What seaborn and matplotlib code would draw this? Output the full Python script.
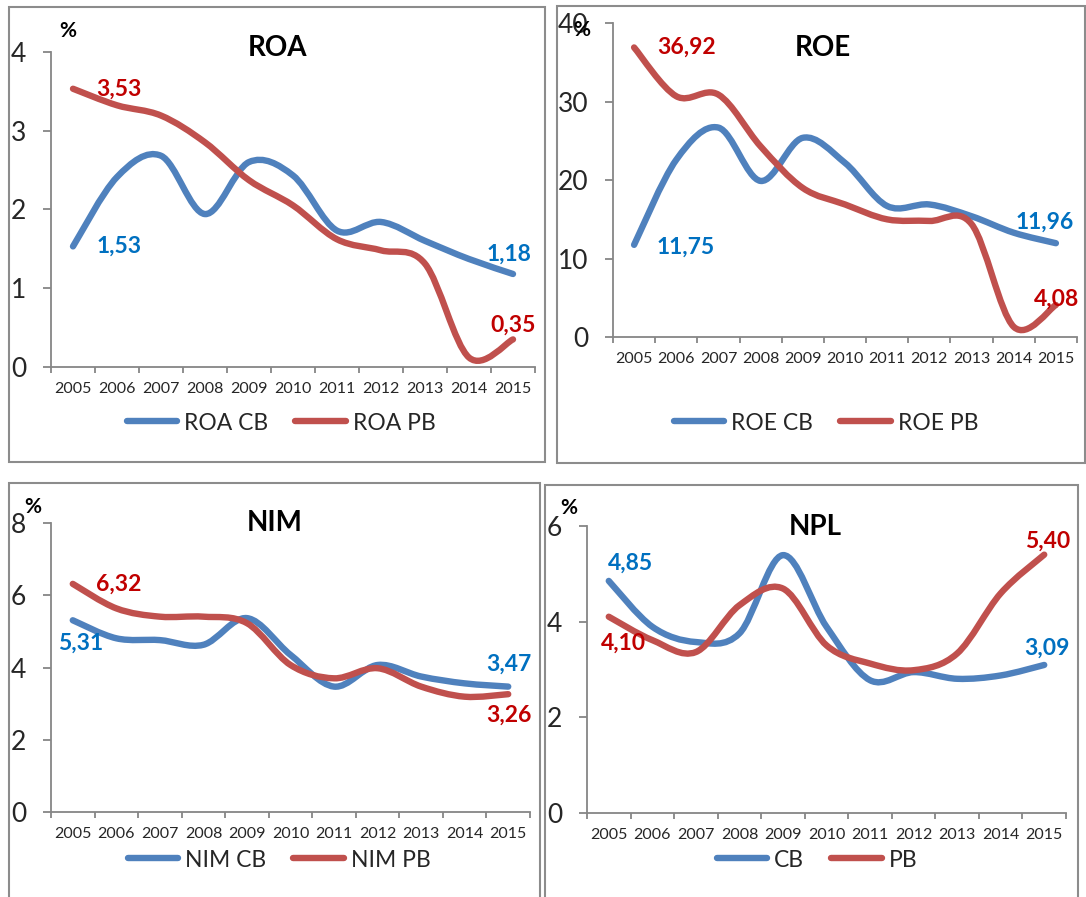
import numpy as np
import pandas as pd
import matplotlib
matplotlib.use("Agg")
import matplotlib.pyplot as plt
import seaborn as sns
from matplotlib.path import Path
from matplotlib.patches import PathPatch, Rectangle
from matplotlib.lines import Line2D

# ---- data ----
years = [str(y) for y in range(2005, 2016)]

roa_cb = [1.53, 2.41, 2.68, 1.94, 2.60, 2.43, 1.73, 1.84, 1.60, 1.37, 1.18]
roa_pb = [3.53, 3.32, 3.19, 2.85, 2.37, 2.05, 1.62, 1.48, 1.31, 0.12, 0.35]

roe_cb = [11.75, 22.6, 26.7, 19.9, 25.4, 22.2, 16.7, 16.9, 15.4, 13.3, 11.96]
roe_pb = [36.92, 30.7, 30.9, 24.3, 19.0, 16.9, 15.0, 14.8, 14.4, 1.3, 4.08]

nim_cb = [5.31, 4.81, 4.76, 4.63, 5.37, 4.35, 3.47, 4.07, 3.75, 3.56, 3.47]
nim_pb = [6.32, 5.64, 5.41, 5.41, 5.23, 4.07, 3.70, 3.98, 3.47, 3.19, 3.26]

npl_cb = [4.85, 3.89, 3.57, 3.75, 5.39, 3.89, 2.77, 2.94, 2.80, 2.87, 3.09]
npl_pb = [4.10, 3.61, 3.36, 4.34, 4.69, 3.50, 3.12, 2.98, 3.33, 4.59, 5.40]

titles = ["ROA", "ROE", "NIM", "NPL"]
legend_labels = [["ROA CB", "ROA PB"], ["ROE CB", "ROE PB"],
                 ["NIM CB", "NIM PB"], ["CB", "PB"]]
series = [(roa_cb, roa_pb), (roe_cb, roe_pb), (nim_cb, nim_pb), (npl_cb, npl_pb)]
yticks = [[0, 1, 2, 3, 4], [0, 10, 20, 30, 40], [0, 2, 4, 6, 8], [0, 2, 4, 6]]

# ---- style ----
sns.set_theme(style="white")
plt.rcParams["font.family"] = ["Lato", "DejaVu Sans"]

W, H = 1086, 897
BLUE, RED = "#4F81BD", "#C0504D"
BLUE_TXT, RED_TXT = "#0070C0", "#C00000"
GRAY = "#868686"

# layout in pixels: axes (left, right, top, bottom), panel box, title, %, legend centre
layout = [
    dict(ax=(51, 535, 51.7, 367), box=(9, 7, 545, 462), title=(277, 48), pct=(68, 31), leg=(281, 423)),
    dict(ax=(613, 1077, 23.3, 337), box=(557, 6, 1085, 463), title=(823, 48), pct=(582, 30), leg=(826, 423)),
    dict(ax=(51, 530, 523.3, 811.7), box=(9, 483, 540, 905), title=(275, 523), pct=(33, 507), leg=(279, 860)),
    dict(ax=(587, 1066, 526, 812.5), box=(545, 485, 1078, 905), title=(815, 527), pct=(569, 508), leg=(817, 860)),
]

# value labels: (series index, point index, dx px, dy px (up +))
value_labels = [
    [(1, 0, 46, 0), (0, 0, 46, 0), (0, 10, -4, 20), (1, 10, 0, 14)],
    [(1, 0, 52, 0), (0, 0, 52, -2), (0, 10, -11, 21), (1, 10, 1, 6)],
    [(1, 0, 46, 0), (0, 0, 8, -23), (0, 10, 1, 22), (1, 10, 1, -21)],
    [(0, 0, 22, 18), (1, 0, 15, -26), (1, 10, 3, 13), (0, 10, 3, 17)],
]


def smooth_path(xs, ys):
    # Bezier curve through every point (spreadsheet-style smoothed line)
    pts = np.column_stack([xs, ys]).astype(float)
    n = len(pts)
    verts, codes = [pts[0]], [Path.MOVETO]
    for i in range(n - 1):
        p0 = pts[i - 1] if i > 0 else pts[i]
        p1, p2 = pts[i], pts[i + 1]
        p3 = pts[i + 2] if i + 2 < n else pts[i + 1]
        verts += [p1 + (p2 - p0) / 6, p2 - (p3 - p1) / 6, p2]
        codes += [Path.CURVE4] * 3
    return Path(verts, codes)


fig = plt.figure(figsize=(W / 100, H / 100), dpi=100)
fig.patch.set_facecolor("white")

for k, lay in enumerate(layout):
    l, r, t, b = lay["ax"]
    ax = fig.add_axes([l / W, 1 - b / H, (r - l) / W, (b - t) / H])
    ax.set_facecolor("none")
    x = np.arange(len(years))
    df = pd.DataFrame({"x": x, "cb": series[k][0], "pb": series[k][1]})

    for col, c in (("cb", BLUE), ("pb", RED)):
        ax.add_patch(PathPatch(smooth_path(df["x"], df[col]), fill=False, edgecolor=c,
                               lw=4.6, capstyle="round", joinstyle="round", zorder=3))

    ax.set_xlim(-0.5, len(years) - 0.5)
    ax.set_ylim(yticks[k][0], yticks[k][-1])
    sns.despine(ax=ax)
    for s in ("left", "bottom"):
        ax.spines[s].set_color(GRAY)
        ax.spines[s].set_linewidth(1.3)

    ax.set_xticks(np.arange(-0.5, len(years), 1))
    ax.set_xticklabels([])
    ax.set_xticks(x, minor=True)
    ax.set_xticklabels(years, minor=True, fontsize=11.5)
    ax.tick_params(axis="x", which="major", direction="out", length=4, width=1.3,
                   color=GRAY, bottom=True)
    ax.tick_params(axis="x", which="minor", length=0, pad=11)
    ax.set_yticks(yticks[k])
    ax.set_yticklabels([str(v) for v in yticks[k]], fontsize=19)
    ax.tick_params(axis="y", direction="out", length=5.8, width=1.3, color=GRAY,
                   left=True, pad=12)
    ax.grid(False)

    # value labels
    for si, pi, dx, dy in value_labels[k]:
        val = series[k][si][pi]
        ax.annotate(f"{val:.2f}".replace(".", ","), (pi, val),
                    xytext=(dx * 0.72, dy * 0.72), textcoords="offset points",
                    ha="center", va="center", fontsize=16.5, fontweight="bold",
                    color=BLUE_TXT if si == 0 else RED_TXT, zorder=5)

    # panel frame, title, unit
    bx0, by0, bx1, by1 = lay["box"]
    fig.patches.append(Rectangle((bx0 / W, 1 - by1 / H), (bx1 - bx0) / W, (by1 - by0) / H,
                                 transform=fig.transFigure, fill=False,
                                 edgecolor="#8C8C8C", lw=1.5))
    fig.text(lay["title"][0] / W, 1 - lay["title"][1] / H, titles[k], ha="center",
             va="center", fontsize=20, fontweight="bold", color="black")
    fig.text(lay["pct"][0] / W, 1 - lay["pct"][1] / H, "%", ha="center", va="center",
             fontsize=15, fontweight="bold", color="black")

    handles = [Line2D([], [], color=BLUE, lw=4.6, solid_capstyle="round"),
               Line2D([], [], color=RED, lw=4.6, solid_capstyle="round")]
    fig.legend(handles, legend_labels[k], loc="center",
               bbox_to_anchor=(lay["leg"][0] / W, 1 - lay["leg"][1] / H),
               ncol=2, frameon=False, fontsize=16.5, handlelength=2.2,
               handletextpad=0.3, columnspacing=1.2, borderpad=0)

fig.savefig("out.png", dpi=100, facecolor="white")
